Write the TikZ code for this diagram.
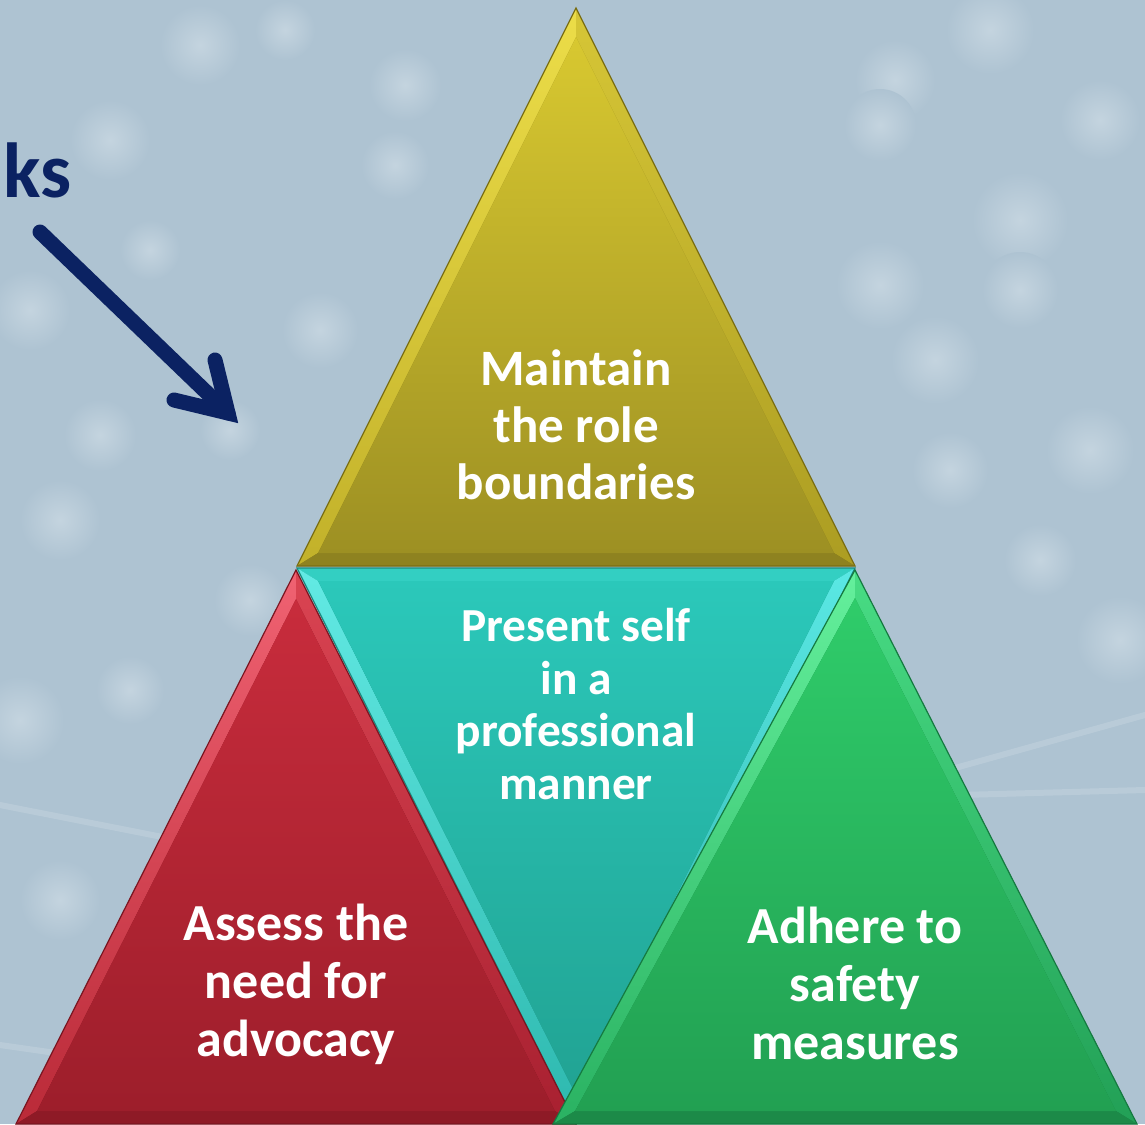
\documentclass[tikz,border=0pt]{standalone}
\usepackage{fontspec}
\setmainfont{Carlito}
\definecolor{bgc}{HTML}{AEC3D2}
\definecolor{bok}{HTML}{C4D4DF}
\definecolor{navy}{HTML}{0B2262}
% top (olive)
\definecolor{yOut}{HTML}{7A6E14}
\definecolor{yLt}{HTML}{ECDD48}
\definecolor{yLb}{HTML}{C2B12A}
\definecolor{yRt}{HTML}{D6C636}
\definecolor{yRb}{HTML}{AC9D22}
\definecolor{yB}{HTML}{8E8220}
\definecolor{yIt}{HTML}{D8C830}
\definecolor{yIb}{HTML}{9D9023}
% teal
\definecolor{tOut}{HTML}{1B8C80}
\definecolor{tT}{HTML}{33CFC2}
\definecolor{tLt}{HTML}{62EAE4}
\definecolor{tLb}{HTML}{2DB8AE}
\definecolor{tRt}{HTML}{5AE8E4}
\definecolor{tRb}{HTML}{2AAEA6}
\definecolor{tIt}{HTML}{2BC8BA}
\definecolor{tIb}{HTML}{21A393}
% red
\definecolor{rOut}{HTML}{7A1520}
\definecolor{rLt}{HTML}{F06272}
\definecolor{rLb}{HTML}{BA2A38}
\definecolor{rRt}{HTML}{DA4452}
\definecolor{rRb}{HTML}{A82030}
\definecolor{rB}{HTML}{8E1A26}
\definecolor{rIt}{HTML}{C82C3C}
\definecolor{rIb}{HTML}{9D1E2B}
% green
\definecolor{gOut}{HTML}{157A40}
\definecolor{gLt}{HTML}{64F09C}
\definecolor{gLb}{HTML}{2AB262}
\definecolor{gRt}{HTML}{48DC84}
\definecolor{gRb}{HTML}{22A056}
\definecolor{gB}{HTML}{1C8A48}
\definecolor{gIt}{HTML}{2FCC6A}
\definecolor{gIb}{HTML}{22A052}
\begin{document}
\begin{tikzpicture}[x=0.5pt,y=-0.5pt,
  bokeh/.style={inner color=bok, outer color=bgc},
  streak/.style={white, opacity=0.14, line width=3pt, line cap=round},
  rim/.style={line width=0.6pt},
  txt/.style={text=white, align=center, inner sep=0pt},
  arrowline/.style={navy, line width=7.5pt, line cap=round}]
\useasboundingbox (0,0) rectangle (1145,1124);
\clip (0,0) rectangle (1145,1124);
% background
\fill[bgc] (0,0) rectangle (1145,1124);
\foreach \x/\y/\r in {200/45/40, 285/30/30, 405/85/36, 395/165/34, 110/140/40, 30/310/40,
  100/435/36, 230/430/30, 320/330/38, 150/250/30, 60/520/40, 20/720/44, 130/690/34,
  990/30/44, 895/80/40, 880/125/36, 1020/220/48, 880/285/44, 1020/290/38, 935/360/44,
  1090/450/44, 1100/120/40, 1040/560/36, 950/470/38, 1120/640/44, 250/600/36, 60/900/40}
  \shade[bokeh] (\x,\y) circle (\r);
\draw[streak] (0,805) -- (330,870);
\draw[streak] (0,1045) -- (70,1055);
\draw[streak] (930,775) -- (1145,715);
\draw[streak] (960,795) -- (1145,790);
% title fragment and arrow
\node[navy, font=\fontsize{39}{42}\selectfont\bfseries, anchor=base west, inner sep=0pt] (ks) at (3,197) {ks};
\coordinate (arrowstart) at (40,232);
\coordinate (arrowtip) at (228,413);
\coordinate (barbA) at (215,360);
\coordinate (barbB) at (174,400);
\draw[arrowline] (arrowstart) -- (arrowtip);
\draw[arrowline, line join=miter] (barbA) -- (arrowtip) -- (barbB);
% ---------- top triangle ----------
\coordinate (yA) at (576,8);   \coordinate (yB) at (297,566);  \coordinate (yC) at (855,566);
\coordinate (yAi) at (576,37); \coordinate (yBi) at (318,553); \coordinate (yCi) at (834,553);
\fill[yOut] (yA) -- (yB) -- (yC) -- cycle;
\shade[top color=yLt, bottom color=yLb] (yA) -- (yB) -- (yBi) -- (yAi) -- cycle;
\shade[top color=yRt, bottom color=yRb] (yA) -- (yC) -- (yCi) -- (yAi) -- cycle;
\fill[yB] (yB) -- (yC) -- (yCi) -- (yBi) -- cycle;
\shade[top color=yIt, bottom color=yIb] (yAi) -- (yBi) -- (yCi) -- cycle;
\draw[rim, yOut] (yA) -- (yB) -- (yC) -- cycle;
% ---------- teal inverted triangle ----------
\coordinate (tA) at (576,1124); \coordinate (tB) at (297,568);  \coordinate (tC) at (855,568);
\coordinate (tAi) at (576,1095);\coordinate (tBi) at (318,581); \coordinate (tCi) at (834,581);
\fill[tOut] (tA) -- (tB) -- (tC) -- cycle;
\fill[tT] (tB) -- (tC) -- (tCi) -- (tBi) -- cycle;
\shade[top color=tLt, bottom color=tLb] (tB) -- (tA) -- (tAi) -- (tBi) -- cycle;
\shade[top color=tRt, bottom color=tRb] (tC) -- (tA) -- (tAi) -- (tCi) -- cycle;
\shade[top color=tIt, bottom color=tIb] (tAi) -- (tBi) -- (tCi) -- cycle;
\draw[rim, tOut] (tA) -- (tB) -- (tC) -- cycle;
% ---------- red triangle ----------
\coordinate (rA) at (296,570);  \coordinate (rB) at (16,1124);  \coordinate (rC) at (576,1124);
\coordinate (rAi) at (296,599); \coordinate (rBi) at (37,1111); \coordinate (rCi) at (555,1111);
\fill[rOut] (rA) -- (rB) -- (rC) -- cycle;
\shade[top color=rLt, bottom color=rLb] (rA) -- (rB) -- (rBi) -- (rAi) -- cycle;
\shade[top color=rRt, bottom color=rRb] (rA) -- (rC) -- (rCi) -- (rAi) -- cycle;
\fill[rB] (rB) -- (rC) -- (rCi) -- (rBi) -- cycle;
\shade[top color=rIt, bottom color=rIb] (rAi) -- (rBi) -- (rCi) -- cycle;
\draw[rim, rOut] (rA) -- (rB) -- (rC) -- cycle;
% ---------- green triangle ----------
\coordinate (gA) at (855,570);  \coordinate (gB) at (553,1124);  \coordinate (gC) at (1137,1124);
\coordinate (gAi) at (855,598); \coordinate (gBi) at (575,1111); \coordinate (gCi) at (1116,1111);
\fill[gOut] (gA) -- (gB) -- (gC) -- cycle;
\shade[top color=gLt, bottom color=gLb] (gA) -- (gB) -- (gBi) -- (gAi) -- cycle;
\shade[top color=gRt, bottom color=gRb] (gA) -- (gC) -- (gCi) -- (gAi) -- cycle;
\fill[gB] (gB) -- (gC) -- (gCi) -- (gBi) -- cycle;
\shade[top color=gIt, bottom color=gIb] (gAi) -- (gBi) -- (gCi) -- cycle;
\draw[rim, gOut] (gA) -- (gB) -- (gC) -- cycle;
% ---------- labels ----------
\node[txt, font=\fontsize{25.5}{28.5}\selectfont\bfseries] (toplabel) at (576,425) {Maintain\\the role\\boundaries};
\node[txt, font=\fontsize{23.7}{26.3}\selectfont\bfseries] (teallabel) at (576,704) {Present self\\in a\\professional\\manner};
\node[txt, font=\fontsize{26}{29}\selectfont\bfseries] (redlabel) at (296,984) {Assess the\\need for\\advocacy};
\node[txt, font=\fontsize{26}{29}\selectfont\bfseries] (greenlabel) at (855,983) {Adhere to\\safety\\measures};
\end{tikzpicture}
\end{document}
